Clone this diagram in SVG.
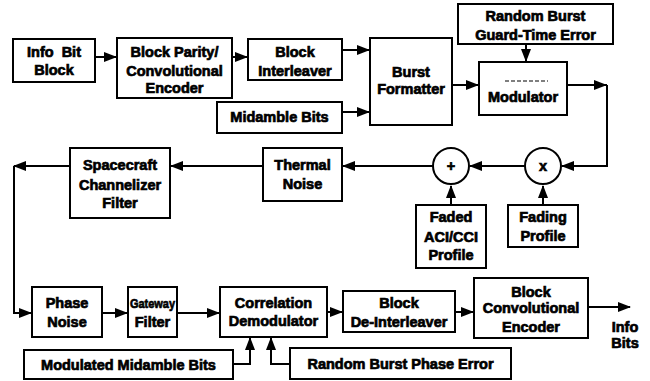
<svg xmlns="http://www.w3.org/2000/svg" width="650" height="381" viewBox="0 0 650 381">
<style>
.b{fill:#fff;stroke:#000;stroke-width:2}
.t{font-family:"Liberation Sans",Arial,sans-serif;font-weight:bold;font-size:14.5px;text-anchor:middle;fill:#000;stroke:#000;stroke-width:0.7}
.c{fill:none;stroke:#000;stroke-width:2}
</style>
<defs>
<marker id="a" markerUnits="userSpaceOnUse" markerWidth="13" markerHeight="10" refX="12" refY="5" orient="auto">
<path d="M0,0 L13,5 L0,10 Z" fill="#000"/>
</marker>
</defs>
<rect width="650" height="381" fill="#fff"/>
<g id="connectors">
<path class="c" d="M95,57 H116" marker-end="url(#a)"/>
<path class="c" d="M232,57 H247" marker-end="url(#a)"/>
<path class="c" d="M342,50 H369" marker-end="url(#a)"/>
<path class="c" d="M342,112 H369" marker-end="url(#a)"/>
<path class="c" d="M452,85 H478" marker-end="url(#a)"/>
<path class="c" d="M526,44 V61" marker-end="url(#a)"/>
<path class="c" d="M567,85 H607"/>
<path class="c" d="M594,85 H606" marker-end="url(#a)"/>
<path class="c" d="M607,85 V166 H562" marker-end="url(#a)"/>
<path class="c" d="M525,166 H470" marker-end="url(#a)"/>
<path class="c" d="M433,166 H343" marker-end="url(#a)"/>
<path class="c" d="M543,205 V186" marker-end="url(#a)"/>
<path class="c" d="M451,205 V186" marker-end="url(#a)"/>
<path class="c" d="M263,166 H171" marker-end="url(#a)"/>
<path class="c" d="M70,166 H14" marker-end="url(#a)"/>
<path class="c" d="M14,166 V313 H31" marker-end="url(#a)"/>
<path class="c" d="M102,313 H127" marker-end="url(#a)"/>
<path class="c" d="M177,313 H219" marker-end="url(#a)"/>
<path class="c" d="M327,312 H342" marker-end="url(#a)"/>
<path class="c" d="M455,312 H473" marker-end="url(#a)"/>
<path class="c" d="M588,307 H630" marker-end="url(#a)"/>
<path class="c" d="M233,364 H250 V338" marker-end="url(#a)"/>
<path class="c" d="M290,364 H271 V338" marker-end="url(#a)"/>
</g>
<g id="info-bit-block"><rect class="b" x="13" y="39" width="82" height="43"/><text class="t" x="54" y="57" xml:space="preserve">Info  Bit</text><text class="t" x="54" y="75">Block</text></g>
<g id="block-parity"><rect class="b" x="117" y="38" width="115" height="60"/><text class="t" x="174.5" y="57">Block Parity/</text><text class="t" x="174.5" y="76">Convolutional</text><text class="t" x="174.5" y="93">Encoder</text></g>
<g id="block-interleaver"><rect class="b" x="248" y="39" width="94" height="41"/><text class="t" x="295" y="57">Block</text><text class="t" x="295" y="76">Interleaver</text></g>
<g id="midamble-bits"><rect class="b" x="217" y="102" width="125" height="31"/><text class="t" x="279.5" y="122">Midamble Bits</text></g>
<g id="burst-formatter"><rect class="b" x="370" y="38" width="82" height="87"/><text class="t" x="411" y="77">Burst</text><text class="t" x="411" y="94">Formatter</text></g>
<g id="guard-time-error"><rect class="b" x="458" y="4" width="155" height="40"/><text class="t" x="535.5" y="21">Random Burst</text><text class="t" x="535.5" y="40">Guard-Time Error</text></g>
<g id="modulator"><rect class="b" x="479" y="62" width="88" height="53"/><line x1="505" y1="81" x2="548" y2="81" stroke="#000" stroke-width="1.2" stroke-dasharray="4,2"/><text class="t" x="523" y="102">Modulator</text></g>
<g id="mult"><circle class="b" cx="543" cy="166" r="18"/><text class="t" x="543" y="171">x</text></g>
<g id="sum"><circle class="b" cx="451" cy="166" r="18"/><text class="t" x="451" y="171">+</text></g>
<g id="fading-profile"><rect class="b" x="508" y="205" width="70" height="42"/><text class="t" x="543" y="222">Fading</text><text class="t" x="543" y="241">Profile</text></g>
<g id="faded-aci"><rect class="b" x="416" y="205" width="70" height="63"/><text class="t" x="451" y="222">Faded</text><text class="t" x="451" y="242">ACI/CCI</text><text class="t" x="451" y="260">Profile</text></g>
<g id="thermal-noise"><rect class="b" x="263" y="148" width="79" height="53"/><text class="t" x="302.5" y="170">Thermal</text><text class="t" x="302.5" y="189">Noise</text></g>
<g id="spacecraft-filter"><rect class="b" x="70" y="148" width="100" height="70"/><text class="t" x="120" y="170">Spacecraft</text><text class="t" x="120" y="190">Channelizer</text><text class="t" x="120" y="208">Filter</text></g>
<g id="phase-noise"><rect class="b" x="32" y="287" width="70" height="50"/><text class="t" x="67" y="308">Phase</text><text class="t" x="67" y="327">Noise</text></g>
<g id="gateway-filter"><rect class="b" x="128" y="287" width="49" height="50"/><text class="t" x="152.5" y="308" style="font-size:13.5px" textLength="45" lengthAdjust="spacingAndGlyphs">Gateway</text><text class="t" x="152.5" y="327">Filter</text></g>
<g id="correlation-demodulator"><rect class="b" x="220" y="287" width="107" height="50"/><text class="t" x="273.5" y="308">Correlation</text><text class="t" x="273.5" y="326">Demodulator</text></g>
<g id="block-deinterleaver"><rect class="b" x="343" y="291" width="112" height="41"/><text class="t" x="399" y="308">Block</text><text class="t" x="399" y="327">De-Interleaver</text></g>
<g id="block-conv-encoder"><rect class="b" x="474" y="278" width="114" height="60"/><text class="t" x="531" y="297">Block</text><text class="t" x="531" y="313">Convolutional</text><text class="t" x="531" y="332">Encoder</text></g>
<g id="info-bits"><text class="t" x="625" y="332">Info</text><text class="t" x="625" y="348">Bits</text></g>
<g id="modulated-midamble-bits"><rect class="b" x="24" y="350" width="209" height="29"/><text class="t" x="128.5" y="370">Modulated Midamble Bits</text></g>
<g id="random-burst-phase-error"><rect class="b" x="290" y="348" width="221" height="31"/><text class="t" x="400.5" y="369">Random Burst Phase Error</text></g>
</svg>
